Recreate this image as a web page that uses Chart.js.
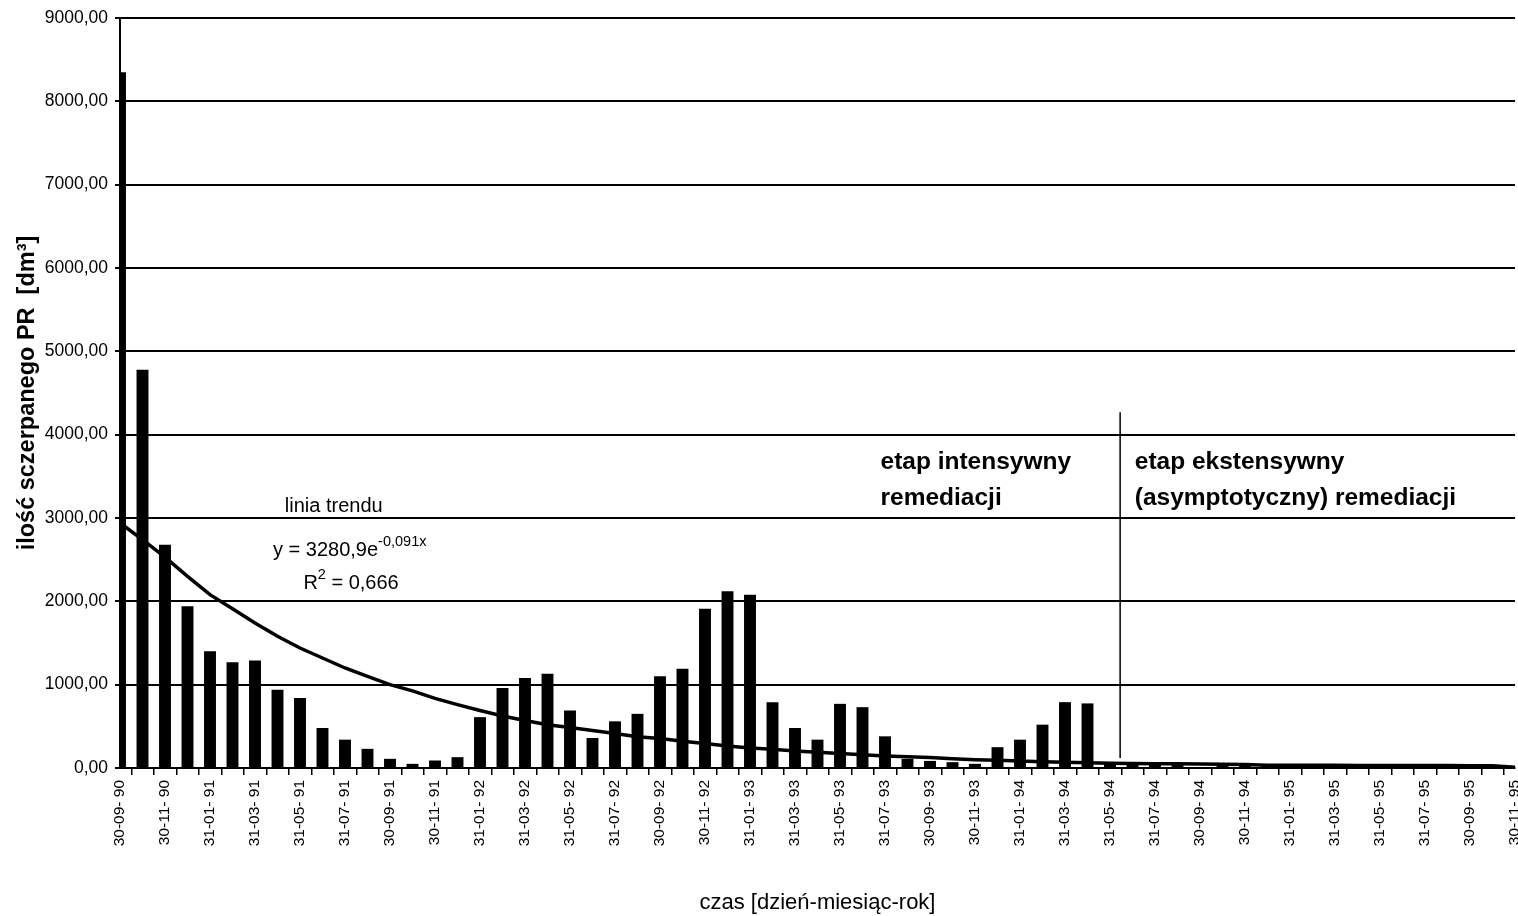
<!DOCTYPE html>
<html>
<head>
<meta charset="utf-8">
<script src="https://cdn.jsdelivr.net/npm/chart.js@4.4.1/dist/chart.umd.min.js"></script>
<style>
  html, body { margin: 0; padding: 0; background: #fff; }
</style>
</head>
<body>
<canvas id="wykres" width="1518" height="916"></canvas>
<script>
// daty (koniec miesiaca) - co druga etykieta jest widoczna
const daty = [
  '30-09- 90', '31-10- 90', '30-11- 90', '31-12- 90',
  '31-01- 91', '28-02- 91', '31-03- 91', '30-04- 91', '31-05- 91', '30-06- 91',
  '31-07- 91', '31-08- 91', '30-09- 91', '31-10- 91', '30-11- 91', '31-12- 91',
  '31-01- 92', '29-02- 92', '31-03- 92', '30-04- 92', '31-05- 92', '30-06- 92',
  '31-07- 92', '31-08- 92', '30-09- 92', '31-10- 92', '30-11- 92', '31-12- 92',
  '31-01- 93', '28-02- 93', '31-03- 93', '30-04- 93', '31-05- 93', '30-06- 93',
  '31-07- 93', '31-08- 93', '30-09- 93', '31-10- 93', '30-11- 93', '31-12- 93',
  '31-01- 94', '28-02- 94', '31-03- 94', '30-04- 94', '31-05- 94', '30-06- 94',
  '31-07- 94', '31-08- 94', '30-09- 94', '31-10- 94', '30-11- 94', '31-12- 94',
  '31-01- 95', '28-02- 95', '31-03- 95', '30-04- 95', '31-05- 95', '30-06- 95',
  '31-07- 95', '31-08- 95', '30-09- 95', '31-10- 95', '30-11- 95'
];

// ilosc sczerpanego PR [dm3]
const ilosc = [
  8350, 4780, 2680, 1940, 1400, 1270, 1290, 940, 840, 480,
  340, 230, 110, 50, 90, 130, 610, 960, 1080, 1130,
  690, 360, 560, 650, 1100, 1190, 1910, 2120, 2080, 790,
  480, 340, 770, 730, 380, 110, 85, 70, 50, 250,
  340, 520, 790, 775, 55, 50, 50, 45, 0, 45,
  45, 35, 30, 30, 35, 30, 30, 25, 30, 30,
  25, 30, 20
];

// linia trendu
const trend = [
  2940, 2740, 2530, 2300, 2080, 1910, 1740, 1580, 1440, 1320,
  1200, 1100, 1000, 925, 835, 760, 690, 625, 570, 520,
  485, 450, 415, 375, 355, 320, 295, 265, 240, 225,
  205, 190, 175, 160, 145, 135, 125, 110, 100, 92,
  84, 75, 70, 64, 58, 54, 52, 50, 48, 46,
  42, 34, 33, 32, 32, 31, 30, 30, 29, 29,
  28, 28, 8
];

const czcionka = '"Liberation Sans", Arial, sans-serif';

// napisy na wykresie (pozycje w jednostkach osi)
const adnotacje = {
  trendTytul: { x: 9.5, y: 3070 },
  rownanie: { x: 6.8, y: 2545 },
  r2: { x: 8.15, y: 2150 },
  etap1: { x: 33.8, y: [3590, 3160] },
  etap2: { x: 45.1, y: [3590, 3160] },
  granica: { x: 44.45, y: [120, 4270] }
};

const napisy = {
  id: 'napisy',
  afterDatasetsDraw(chart) {
    const { ctx, scales: { x, y } } = chart;
    const a = adnotacje;
    ctx.save();
    ctx.fillStyle = '#000';
    ctx.textBaseline = 'alphabetic';

    // pionowa linia miedzy etapami
    ctx.strokeStyle = '#000';
    ctx.lineWidth = 1.5;
    ctx.beginPath();
    ctx.moveTo(x.getPixelForValue(a.granica.x), y.getPixelForValue(a.granica.y[0]));
    ctx.lineTo(x.getPixelForValue(a.granica.x), y.getPixelForValue(a.granica.y[1]));
    ctx.stroke();

    ctx.font = '20px ' + czcionka;
    ctx.textAlign = 'center';
    ctx.fillText('linia trendu', x.getPixelForValue(a.trendTytul.x), y.getPixelForValue(a.trendTytul.y));

    ctx.textAlign = 'left';
    let px = x.getPixelForValue(a.rownanie.x);
    let py = y.getPixelForValue(a.rownanie.y);
    const glowny = 'y = 3280,9e';
    ctx.fillText(glowny, px, py);
    const w = ctx.measureText(glowny).width;
    ctx.font = '14.5px ' + czcionka;
    ctx.fillText('-0,091x', px + w, py - 10);

    ctx.font = '20px ' + czcionka;
    px = x.getPixelForValue(a.r2.x);
    py = y.getPixelForValue(a.r2.y);
    ctx.fillText('R', px, py);
    const wr = ctx.measureText('R').width;
    ctx.font = '14.5px ' + czcionka;
    ctx.fillText('2', px + wr, py - 10);
    const w2 = ctx.measureText('2').width;
    ctx.font = '20px ' + czcionka;
    ctx.fillText(' = 0,666', px + wr + w2, py);

    ctx.font = 'bold 24.5px ' + czcionka;
    ctx.fillText('etap intensywny', x.getPixelForValue(a.etap1.x), y.getPixelForValue(a.etap1.y[0]));
    ctx.fillText('remediacji', x.getPixelForValue(a.etap1.x), y.getPixelForValue(a.etap1.y[1]));
    ctx.fillText('etap ekstensywny', x.getPixelForValue(a.etap2.x), y.getPixelForValue(a.etap2.y[0]));
    ctx.fillText('(asymptotyczny) remediacji', x.getPixelForValue(a.etap2.x), y.getPixelForValue(a.etap2.y[1]));
    ctx.restore();
  }
};

new Chart(document.getElementById('wykres').getContext('2d'), {
  type: 'bar',
  data: {
    labels: daty,
    datasets: [
      {
        type: 'line',
        data: trend,
        borderColor: '#000',
        borderWidth: 3.5,
        pointRadius: 0,
        tension: 0,
        order: 0
      },
      {
        data: ilosc,
        backgroundColor: '#000',
        barPercentage: 0.53,
        categoryPercentage: 1.0,
        clip: 0,
        order: 1
      }
    ]
  },
  options: {
    responsive: false,
    animation: false,
    layout: { padding: { top: 18, right: 3, left: 0, bottom: 0 } },
    plugins: {
      legend: { display: false },
      tooltip: { enabled: false }
    },
    scales: {
      x: {
        offset: false,
        grid: { display: true, drawOnChartArea: false, drawTicks: true, tickLength: 7, color: '#000', lineWidth: 1.5 },
        border: { display: true, color: '#000', width: 2 },
        ticks: {
          autoSkip: false,
          minRotation: 90,
          maxRotation: 90,
          padding: 5,
          color: '#000',
          font: { family: czcionka, size: 15.5 },
          callback: (v, i) => (i % 2 === 0 ? daty[i] : '')
        },
        title: {
          display: true,
          text: 'czas [dzień-miesiąc-rok]',
          color: '#000',
          font: { family: czcionka, size: 22 },
          padding: 0
        },
        afterFit: (s) => { s.height = 148; s.paddingLeft = 0; s.paddingRight = 0; }
      },
      y: {
        min: 0,
        max: 9000,
        ticks: {
          stepSize: 1000,
          padding: 7,
          color: '#000',
          font: { family: czcionka, size: 17.5 },
          callback: (v) => v.toFixed(2).replace('.', ',')
        },
        grid: { color: '#000', lineWidth: 2, tickLength: 5 },
        border: { color: '#000', width: 2 },
        title: {
          display: true,
          text: 'ilość sczerpanego PR  [dm³]',
          color: '#000',
          font: { family: czcionka, size: 23.5, weight: 'bold' },
          padding: { top: 13, bottom: 0 }
        },
        afterFit: (s) => { s.width = 120; s.paddingTop = 0; s.paddingBottom = 0; }
      }
    }
  },
  plugins: [napisy]
});
</script>
</body>
</html>
